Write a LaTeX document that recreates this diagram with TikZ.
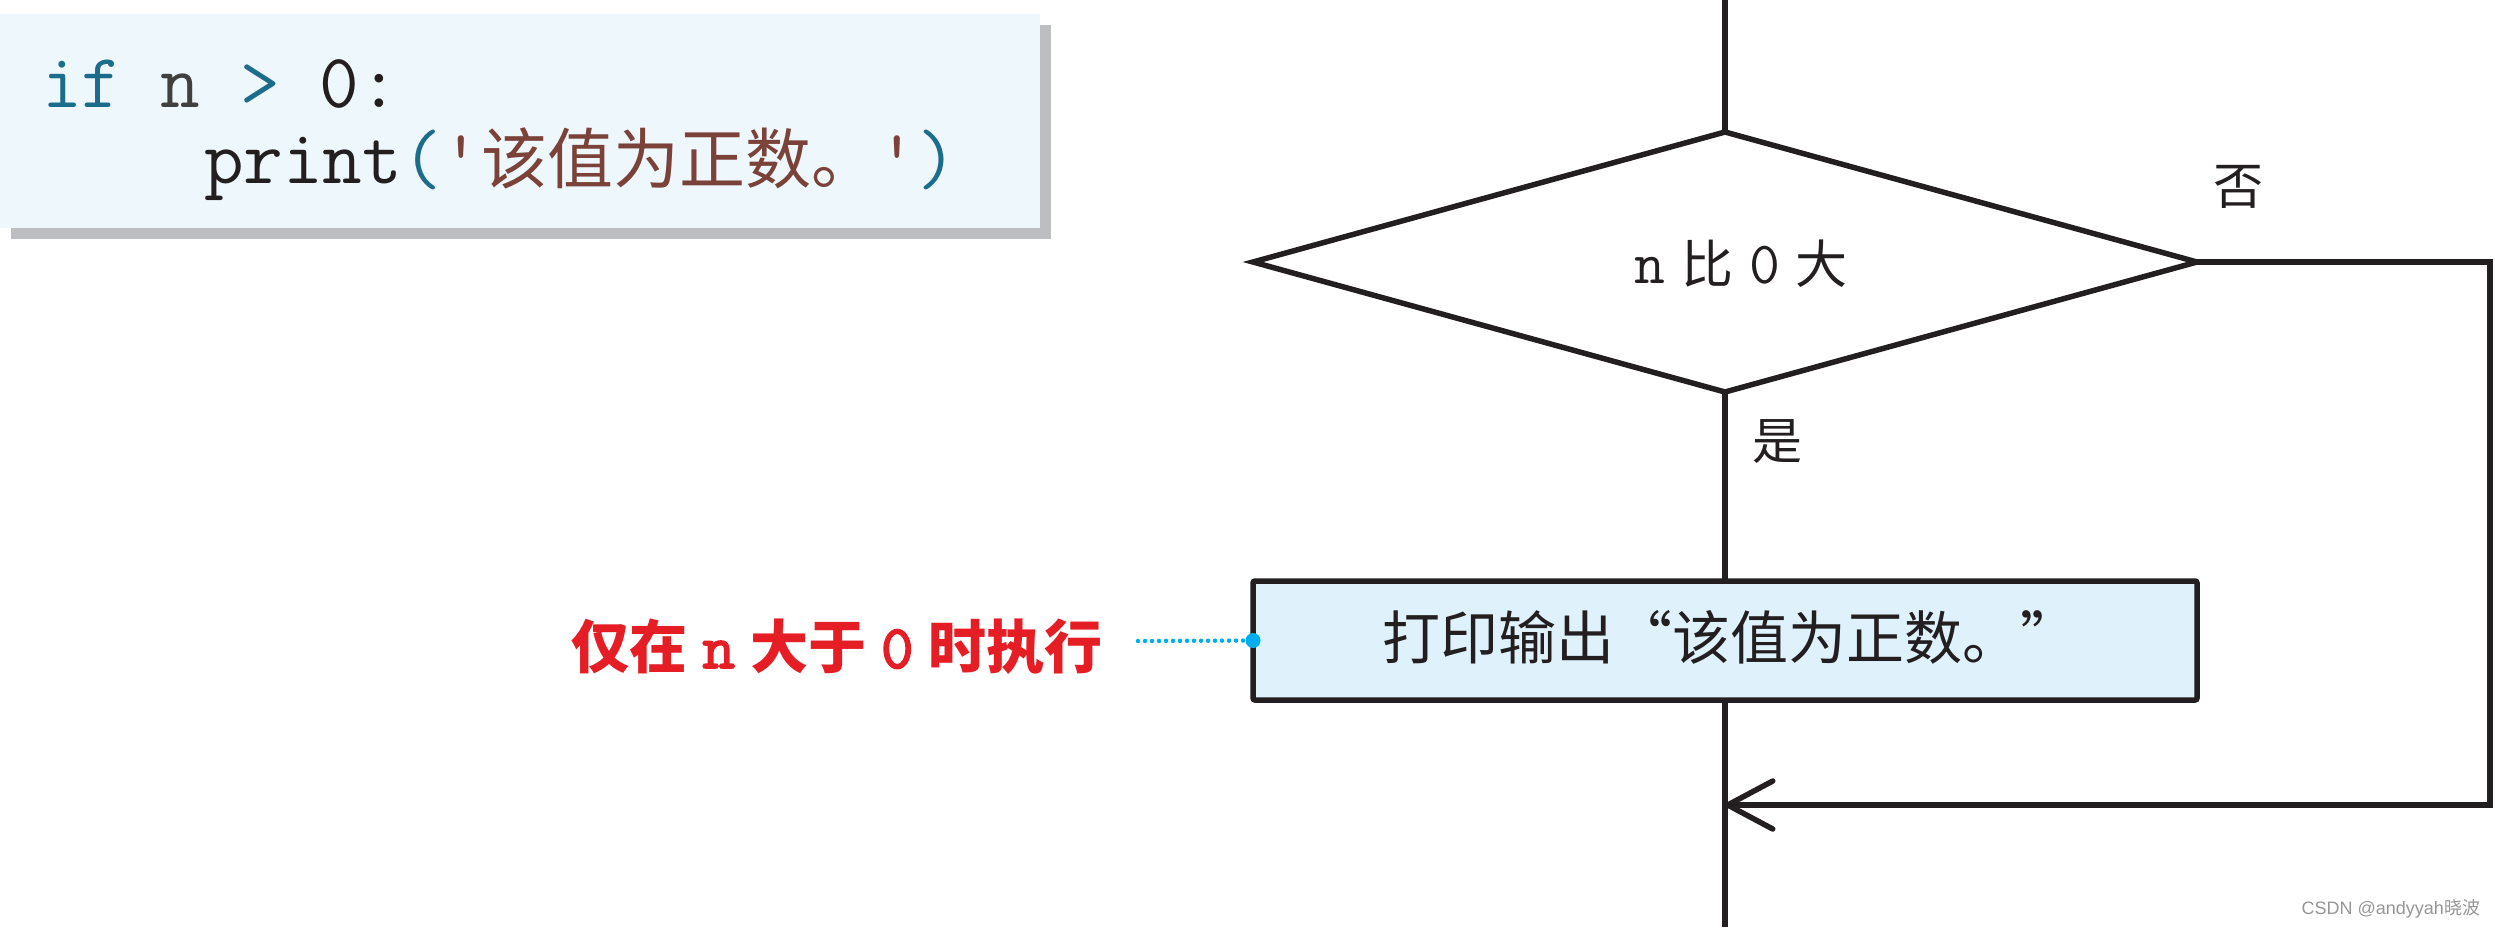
\documentclass[tikz,border=0pt]{standalone}
\usepackage{fontspec}
\newfontfamily\cjk{Noto Sans CJK SC}
\newfontfamily\wmfont{Liberation Sans}
\newfontfamily\ttb{lmmono10-regular.otf}[FakeBold=2.5]
\usetikzlibrary{arrows.meta,shapes.geometric}
\definecolor{codebg}{RGB}{238,247,252}
\definecolor{shadowc}{RGB}{189,190,194}
\definecolor{boxbg}{RGB}{223,241,251}
\definecolor{ink}{RGB}{35,31,32}
\definecolor{redc}{RGB}{229,30,37}
\definecolor{cyanc}{RGB}{0,174,239}
\definecolor{kw}{RGB}{28,108,140}
\definecolor{strc}{RGB}{122,66,56}
\definecolor{nm}{RGB}{64,64,64}
\definecolor{wmgray}{RGB}{150,150,150}
\newcommand\myfs[1]{\fontsize{#1}{#1}\selectfont}
\begin{document}
\begin{tikzpicture}[x=1pt,y=-1pt,
  flow/.style={draw=ink, line width=5.5pt},
  plain/.style={inner sep=0pt, outer sep=0pt},
  codebox/.style={plain, minimum width=1040pt, minimum height=214pt, anchor=north west},
  dotline/.style={draw=cyanc, line width=4.5pt, line cap=round, dash pattern=on 0pt off 7pt}]
\useasboundingbox (0,0) rectangle (2495,927);
% code box with shadow
\node[codebox, fill=shadowc] (shadow) at (11,25) {};
\node[codebox, fill=codebg] (code) at (0,14) {};
\node[plain, anchor=base west] (l1) at (42,107)
  {\ttfamily\myfs{77}\color{kw}if \color{nm}n \color{kw}> \color{ink}0:};
\node[plain, anchor=base west] (l2) at (204,183)
  {\ttfamily\myfs{77}\color{ink}print\textcolor{kw}{(}\textcolor{strc}{'{\cjk\myfs{66}该值为正数。}'}\textcolor{kw}{)}};
% flowchart shapes
\node[diamond, flow, plain, minimum width=944pt, minimum height=260pt] (dec) at (1725,262) {};
\node[flow, plain, fill=boxbg, rounded corners=2pt, minimum width=944pt, minimum height=119pt] (pbox) at (1725,640.5) {};
\node[circle, fill=cyanc, minimum size=15pt, inner sep=0pt] (dot) at (pbox.west) {};
% texts
\node[plain, anchor=base] (dtxt) at (1741,283)
  {\ttfamily\myfs{60}\color{ink}n\hspace{16pt}{\cjk\myfs{52}比}\hspace{16pt}0\hspace{16pt}{\cjk\myfs{52}大}};
\node[plain, anchor=base, text=ink] (ptxt) at (1730,659) {\cjk\myfs{58}打印输出“该值为正数。”};
\node[plain, anchor=base, text=ink] (no) at (2238,204) {\cjk\myfs{50}否};
\node[plain, anchor=base, text=ink] (yes) at (1777,459) {\cjk\myfs{50}是};
\node[plain, anchor=base, text=redc] (note) at (837,668)
  {\cjk\bfseries\myfs{58}仅在\hspace{15pt}{\ttb\myfs{62}n}\hspace{15pt}大于\hspace{15pt}{\ttb\myfs{62}0}\hspace{15pt}时执行};
\node[plain, anchor=base east, text=wmgray] (wm) at (2480,914) {\wmfont\myfs{18}CSDN @andyyah{\cjk 晓波}};
% coordinates
\coordinate (top) at (1725,0);
\coordinate (bot) at (1725,927);
\coordinate (corner) at (2490,805);
\coordinate (join) at (1725,805);
\coordinate (dstart) at (1138,641);
% connectors
\draw[flow] (top) -- (dec.north);
\draw[flow] (dec.south) -- (pbox.north);
\draw[flow] (pbox.south) -- (bot);
\draw[flow, -{Straight Barb[length=45pt,width=48pt,round]}] (dec.east) -| (corner) -- (join);
\draw[dotline] (dstart) -- (dot);
\end{tikzpicture}
\end{document}
